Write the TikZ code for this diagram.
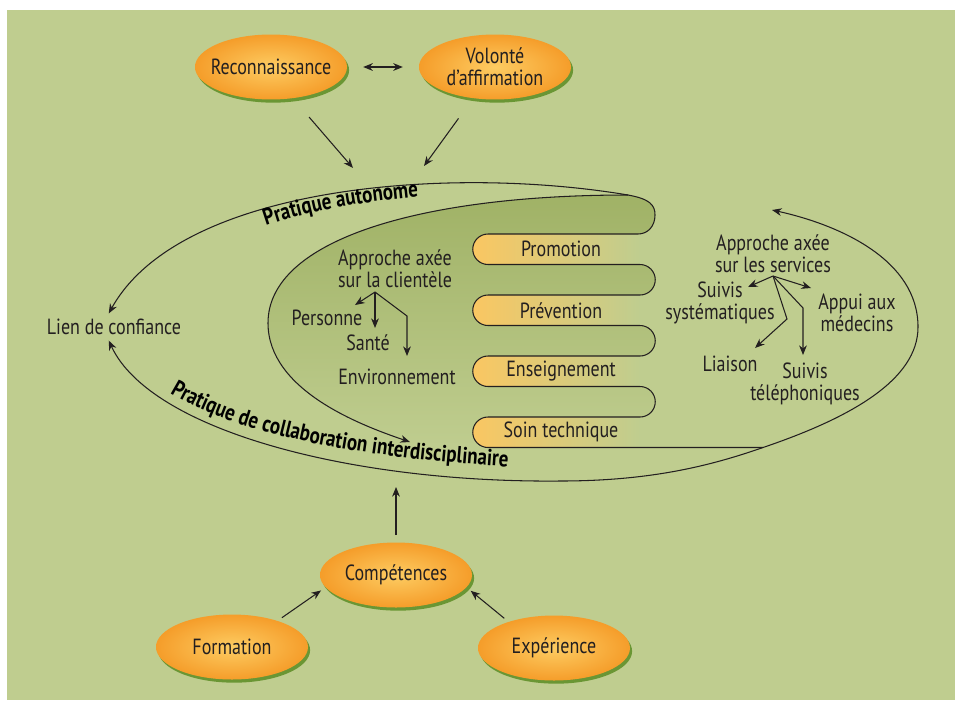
\documentclass[tikz,border=0pt]{standalone}
\usepackage{fontspec}
\setmainfont{PT Sans}[FakeStretch=0.82]
\usepackage{xcolor}
\usetikzlibrary{arrows.meta, shapes.geometric, shadows, decorations.text}
\definecolor{bggreen}{RGB}{191,205,143}
\definecolor{innergreen}{RGB}{160,178,102}
\definecolor{boxorange}{RGB}{250,199,98}
\definecolor{ellight}{RGB}{253,204,98}
\definecolor{eldark}{RGB}{245,157,42}
\definecolor{shadowgreen}{RGB}{106,150,52}
\definecolor{ink}{RGB}{35,31,32}

\tikzset{
  arr/.style={-{Stealth[length=5.5pt,width=4.4pt]}, line width=0.6pt, draw=ink},
  arrboth/.style={{Stealth[length=5.5pt,width=4.4pt]}-{Stealth[length=5.5pt,width=4.4pt]}, line width=0.6pt, draw=ink},
  bubble/.style={ellipse, minimum width=3.04cm, minimum height=1.3cm, inner sep=0pt, inner color=ellight, outer color=eldark,
    drop shadow={shadow xshift=1.2pt, shadow yshift=-1.8pt, fill=shadowgreen, opacity=1},
    label={[align=center, inner sep=0pt]center:#1}},
  lbl/.style={align=center, inner sep=1pt},
  outline/.style={line width=0.6pt, draw=ink},
  curvedtext/.style={decorate, decoration={text along path, text={|\bfseries\fontsize{13.2}{13.2}\selectfont|#1}}},
  % the comb of the inner zone, from the top lobe down to the bottom edge
  comb/.style={insert path={.. controls (650,199) and (655,205) .. (655,215) .. controls (655,226) and (648,234) .. (638,234)
    -- (488,234) arc[start angle=270, end angle=90, radius=15.25]
    -- (640,264.5) arc[start angle=-90, end angle=90, radius=15.25]
    -- (488,295) arc[start angle=270, end angle=90, radius=15.25]
    -- (640,325.5) arc[start angle=-90, end angle=90, radius=15.25]
    -- (488,356) arc[start angle=270, end angle=90, radius=15.25]
    -- (640,386.5) arc[start angle=-90, end angle=90, radius=15.25]
    -- (488,417) arc[start angle=270, end angle=90, radius=15.25]
    -- (763,447.5)}},
}

\begin{document}
\begin{tikzpicture}[x=0.02cm, y=-0.02cm, font=\fontsize{12.5}{12.5}\selectfont, text=ink]
  \useasboundingbox (0,0) rectangle (955,700);
  \fill[white] (0,0) rectangle (955,700);
  \fill[bggreen] (7,10) rectangle (955,700);

  % inner zone
  \shade[top color=innergreen, bottom color=bggreen] (410,442) .. controls (360,425) and (268,390) .. (268,323)
    .. controls (268,240) and (420,195) .. (628,195) [comb] -- cycle;
  \foreach \y/\name/\txt in {234/promo/Promotion, 295/prev/Prévention, 356/ens/Enseignement, 417/soin/Soin technique} {
    \shade[left color=boxorange, right color=bggreen] (640,\y) -- (488,\y)
      arc[start angle=270, end angle=90, radius=15.25] -- (640,\y+30.5) -- cycle;
    \node (\name) at (561,\y+15.25) {\txt};
  }
  \draw[outline] (628,195) [comb];

  % labels
  \node[inner sep=3pt] (lien) at (114,327) {Lien de confiance};
  \node[lbl] (clientele) at (395,269) {Approche axée\\sur la clientèle};
  \node (personne) at (327,318) {Personne};
  \node (sante) at (368,343) {Santé};
  \node (envir) at (397,377) {Environnement};
  \node[lbl] (services) at (773,254) {Approche axée\\sur les services};
  \node[lbl] (systema) at (720,303) {Suivis\\systématiques};
  \node[lbl] (appui) at (857,313) {Appui aux\\médecins};
  \node (liaison) at (730,364) {Liaison};
  \node[lbl] (telepho) at (805,384) {Suivis\\téléphoniques};

  % practice curves
  \coordinate (pc-in) at (410,442);
  \coordinate (pc-out) at (772,210);
  \draw[arr] (628,195) .. controls (420,195) and (268,240) .. (268,323) .. controls (268,390) and (360,425) .. (pc-in);
  \draw[arr] (628,195) .. controls (450,165) and (180,185) .. ([xshift=-3pt]lien.north);
  \draw[arrboth] ([xshift=-3pt]lien.south) .. controls (150,430) and (350,483) .. (560,481)
    .. controls (650,481) and (710,466) .. (763,447.5) .. controls (850,418) and (918,380) .. (918,327)
    .. controls (918,260) and (840,225) .. (pc-out);
  \path[curvedtext={Pratique autonome}] (266,226) .. controls (310,211) and (360,200) .. (470,193);
  \path[curvedtext={Pratique de collaboration interdisciplinaire}] (170,393) .. controls (228,428) and (340,462) .. (580,470);

  % client branches
  \coordinate (cl-o) at (375,292);
  \coordinate (cl-p) at (355,305);
  \coordinate (cl-s) at (375,328);
  \coordinate (cl-k) at (407,316);
  \coordinate (cl-e) at (407,356);
  \draw[arr] (cl-o) -- (cl-p);
  \draw[arr] (cl-o) -- (cl-s);
  \draw[arr] (cl-o) -- (cl-k) -- (cl-e);

  % service branches
  \coordinate (sv-o) at (773,276);
  \coordinate (sv-s) at (748,287);
  \coordinate (sv-a) at (811,288);
  \coordinate (sv-k) at (787,319);
  \coordinate (sv-l) at (755,348);
  \coordinate (sv-j) at (803,308);
  \coordinate (sv-t) at (803,355);
  \draw[arr] (sv-o) -- (sv-s);
  \draw[arr] (sv-o) -- (sv-a);
  \draw[arr] (sv-o) -- (sv-k) -- (sv-l);
  \draw[arr] (sv-o) -- (sv-j) -- (sv-t);

  % bubbles
  \node[bubble={Reconnaissance}] (recon) at (271,67) {};
  \node[bubble={Volonté\\d’affirmation}] (volonte) at (495,67) {};
  \node[bubble={Compétences}] (compet) at (396,575) {};
  \node[bubble={Formation}] (formation) at (232,647) {};
  \node[bubble={Expérience}] (experience) at (554,648) {};

  \coordinate (pa-l) at (353,168);
  \coordinate (pa-r) at (424,166);
  \coordinate (pc-up) at (396,487);
  \draw[arrboth, shorten <=9pt, shorten >=9pt] (recon) -- (volonte);
  \draw[arr, shorten <=14pt] (recon.-55) -- (pa-l);
  \draw[arr, shorten <=14pt] (volonte.235) -- (pa-r);
  \draw[arr, shorten <=4pt] (compet.north) -- (pc-up);
  \draw[arr, shorten <=3pt, shorten >=3pt] (formation.30) -- (compet.190);
  \draw[arr, shorten <=3pt, shorten >=3pt] (experience.150) -- (compet.350);
\end{tikzpicture}
\end{document}
